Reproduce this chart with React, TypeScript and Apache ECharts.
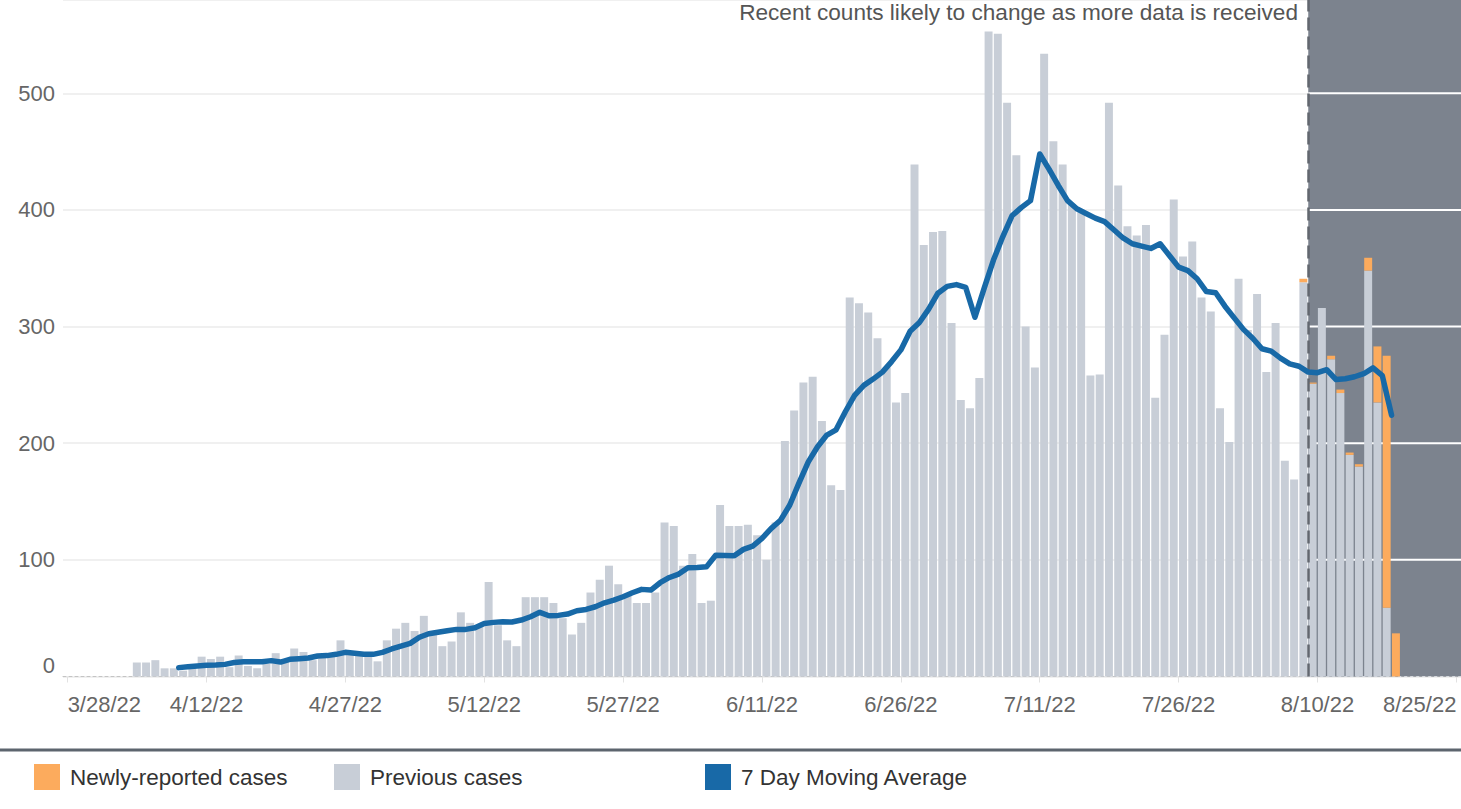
import React, { useEffect, useRef } from "react";
import * as echarts from "echarts";

// ---- axis / category data ----
const FIRST_DATE_UTC = Date.UTC(2022, 2, 28); // 3/28/22
const DAY_COUNT = 151; // 3/28/22 .. 8/25/22
const LABEL_EVERY = 15;
const yTicks = [0, 100, 200, 300, 400, 500];
const yMax = 580;

const barsStart = "4/4/22";
const newlyStart = "8/8/22";
const averageStart = "4/9/22";
const recentStart = "8/9/22";

// Previous cases per day, from 4/4/22 to 8/18/22
const previousCases = [
  12, 12, 14, 7, 7, 5, 8, 17, 15, 17, 8, 18, 9, 7, 11, 20, 14, 24, 21, 14,
  17, 17, 31, 20, 19, 17, 13, 31, 41, 46, 39, 52, 39, 26, 30, 55, 46, 43, 81, 44,
  31, 26, 68, 68, 68, 63, 50, 36, 46, 72, 83, 95, 79, 70, 63, 63, 72, 132, 129, 95,
  105, 63, 65, 147, 129, 129, 130, 121, 100, 132, 202, 228, 252, 257, 219, 164, 160, 325, 320, 312,
  290, 265, 235, 243, 439, 370, 381, 382, 303, 237, 230, 256, 553, 551, 492, 447, 300, 265, 534, 459,
  439, 405, 398, 258, 259, 492, 421, 386, 378, 387, 239, 293, 409, 360, 373, 325, 313, 230, 201, 341,
  297, 328, 261, 303, 185, 169, 338, 251, 316, 272, 243, 190, 180, 348, 235, 59, 0,
];

// Newly-reported cases per day, from 8/8/22 to 8/18/22
const newlyReported = [3, 1, 0, 3, 3, 2, 2, 11, 48, 216, 37];

// 7 day moving average, from 4/9/22 to 8/18/22
const movingAverage = [
  7.6, 8.4, 9.0, 9.6, 9.9, 10.4, 12.0, 12.7, 12.7, 12.7, 13.6, 12.4, 14.7, 15.3, 15.9, 17.6, 17.9, 19.0, 20.7, 19.9,
  19.0, 19.0, 20.7, 23.6, 26.0, 28.4, 33.6, 36.7, 38.0, 39.3, 40.4, 40.4, 41.8, 45.5, 46.4, 47.0, 46.7, 48.4, 51.2, 55.0,
  52.1, 52.4, 53.5, 56.4, 57.5, 59.8, 63.2, 65.5, 68.4, 71.8, 74.7, 74.1, 80.4, 84.9, 87.8, 93.2, 93.5, 94.0, 104.0, 103.8,
  103.5, 109.0, 111.8, 118.4, 127, 134, 147, 166, 184, 197, 207, 211.5, 227, 241, 249.6, 255, 261, 270, 280, 296,
  303.5, 315, 328.6, 334.5, 336, 333.6, 308, 333, 357, 377, 395, 402, 408, 448, 435, 421, 408, 401, 397, 393,
  390, 383, 376, 371, 369, 367, 371, 361, 351, 348, 341, 330, 329, 317.5, 307.5, 297.6, 290, 281, 279, 273,
  268, 266, 261, 260.5, 263, 254.6, 255.3, 257, 259.6, 264.6, 258, 224,
];

const NOTE = "Recent counts likely to change as more data is received";

const COLORS = {
  previous: "#c8ced7",
  newly: "#fcab5d",
  average: "#1869a7",
  band: "#7c838e",
  grid: "#ebebeb",
  dashed: "#62676f",
  text: "#666666",
  legendText: "#333333",
  rule: "#5d656e",
};
const FONT = "'Liberation Sans', Arial, Helvetica, sans-serif";

function fmtDate(ms: number) {
  const d = new Date(ms);
  return `${d.getUTCMonth() + 1}/${d.getUTCDate()}/${String(d.getUTCFullYear()).slice(2)}`;
}
const dates = Array.from({ length: DAY_COUNT }, (_, i) => fmtDate(FIRST_DATE_UTC + i * 86400000));

function buildOption() {
  const barOffset = dates.indexOf(barsStart);
  const newOffset = dates.indexOf(newlyStart);
  const avgOffset = dates.indexOf(averageStart);
  const recentIndex = dates.indexOf(recentStart);

  const previousData = previousCases.map((v, k) => [barOffset + k, v]);
  const newlyData = newlyReported.map((v, k) => {
    const idx = newOffset + k;
    return [idx, previousCases[idx - barOffset] || 0, v];
  });
  const averageData = dates.map((_, i) => {
    const k = i - avgOffset;
    return k >= 0 && k < movingAverage.length ? movingAverage[k] : "-";
  });

  const renderBar = (stacked: boolean, color: string) => (params: any, api: any) => {
    const i = api.value(0);
    const base = stacked ? api.value(1) : 0;
    const top = stacked ? api.value(1) + api.value(2) : api.value(1);
    if (!(top > base)) return null;
    const p0 = api.coord([i, base]);
    const p1 = api.coord([i, top]);
    const w = api.size([1, 0])[0];
    return {
      type: "rect",
      shape: { x: p0[0] + 0.4, y: p1[1], width: w - 1.3, height: p0[1] - p1[1] },
      style: { fill: color },
    };
  };

  const renderBand = (params: any, api: any) => {
    const cs = params.coordSys;
    const start = api.coord([api.value(0), 0]);
    const right = cs.x + cs.width;
    const children: any[] = [
      {
        type: "rect",
        shape: { x: start[0], y: cs.y, width: right - start[0], height: cs.height },
        style: { fill: COLORS.band },
      },
    ];
    yTicks.forEach((t) => {
      const p = api.coord([api.value(0), t]);
      children.push({
        type: "line",
        shape: { x1: start[0], y1: p[1], x2: right, y2: p[1] },
        style: t === 0
          ? { stroke: "#d6d9de", lineWidth: 1, lineDash: [3, 3] }
          : { stroke: "#ffffff", lineWidth: 2 },
      });
    });
    return { type: "group", children };
  };

  const legendBase = {
    orient: "horizontal",
    top: 764,
    padding: 0,
    itemWidth: 26,
    itemHeight: 26,
    icon: "rect",
    selectedMode: false,
    textStyle: { fontSize: 22.5, color: COLORS.legendText, fontFamily: FONT, padding: [0, 0, 0, 5] },
  };

  return {
    animation: false,
    textStyle: { fontFamily: FONT },
    grid: { left: 63, right: 0, top: -1, bottom: 132.5, containLabel: false },
    legend: [
      { ...legendBase, left: 34, data: ["Newly-reported cases"] },
      { ...legendBase, left: 334, data: ["Previous cases"] },
      { ...legendBase, left: 705, data: ["7 Day Moving Average"] },
    ],
    xAxis: {
      type: "category",
      data: dates,
      boundaryGap: true,
      axisLine: { show: true, lineStyle: { color: "#c4c4c4", width: 1, type: [3, 3] } },
      axisTick: {
        show: true,
        alignWithLabel: true,
        interval: LABEL_EVERY - 1,
        length: 6,
        lineStyle: { color: "#e2e2e2" },
      },
      axisLabel: {
        interval: LABEL_EVERY - 1,
        fontSize: 22,
        color: COLORS.text,
        fontFamily: FONT,
        margin: 17,
        alignMinLabel: "left",
        alignMaxLabel: "right",
      },
      splitLine: { show: false },
    },
    yAxis: {
      type: "value",
      min: 0,
      max: yMax,
      interval: 100,
      axisLine: { show: false },
      axisTick: { show: false },
      axisLabel: {
        fontSize: 22,
        color: COLORS.text,
        fontFamily: FONT,
        margin: 8,
        verticalAlignMinLabel: "bottom",
        formatter: (v: number) => (yTicks.indexOf(v) >= 0 ? String(v) : ""),
      },
      splitLine: { show: true, lineStyle: { color: COLORS.grid, width: 1.5 } },
    },
    graphic: [
      {
        type: "text",
        right: 163,
        top: 1,
        style: { text: NOTE, fontSize: 22.6, fill: "#555555", fontFamily: FONT },
        silent: true,
      },
      {
        type: "rect",
        left: 0,
        top: 748.5,
        shape: { width: 1461, height: 3 },
        style: { fill: COLORS.rule },
        silent: true,
      },
    ],
    series: [
      {
        name: "recent-band",
        type: "custom",
        z: 1,
        silent: true,
        renderItem: renderBand,
        data: [[recentIndex]],
        encode: { x: 0 },
      },
      {
        name: "Previous cases",
        type: "custom",
        z: 2,
        silent: true,
        itemStyle: { color: COLORS.previous },
        renderItem: renderBar(false, COLORS.previous),
        data: previousData,
        encode: { x: 0, y: 1 },
      },
      {
        name: "Newly-reported cases",
        type: "custom",
        z: 3,
        silent: true,
        itemStyle: { color: COLORS.newly },
        renderItem: renderBar(true, COLORS.newly),
        data: newlyData,
        encode: { x: 0, y: 1 },
      },
      {
        name: "7 Day Moving Average",
        type: "line",
        z: 10,
        data: averageData,
        showSymbol: false,
        symbol: "none",
        silent: true,
        itemStyle: { color: COLORS.average },
        lineStyle: { color: COLORS.average, width: 5.5, join: "round", cap: "round" },
        markLine: {
          silent: true,
          symbol: "none",
          label: { show: false },
          lineStyle: { color: COLORS.dashed, width: 2.5, type: [13, 6] },
          emphasis: { disabled: true },
          data: [{ xAxis: recentStart }],
        },
      },
    ],
  };
}

export default function App() {
  const ref = useRef<HTMLDivElement>(null);
  useEffect(() => {
    document.body.style.margin = "0";
    if (!ref.current) return;
    const chart = echarts.init(ref.current, undefined, { renderer: "svg" });
    chart.setOption(buildOption() as any);
    return () => chart.dispose();
  }, []);
  return <div ref={ref} style={{ width: 1461, height: 809 }} />;
}
